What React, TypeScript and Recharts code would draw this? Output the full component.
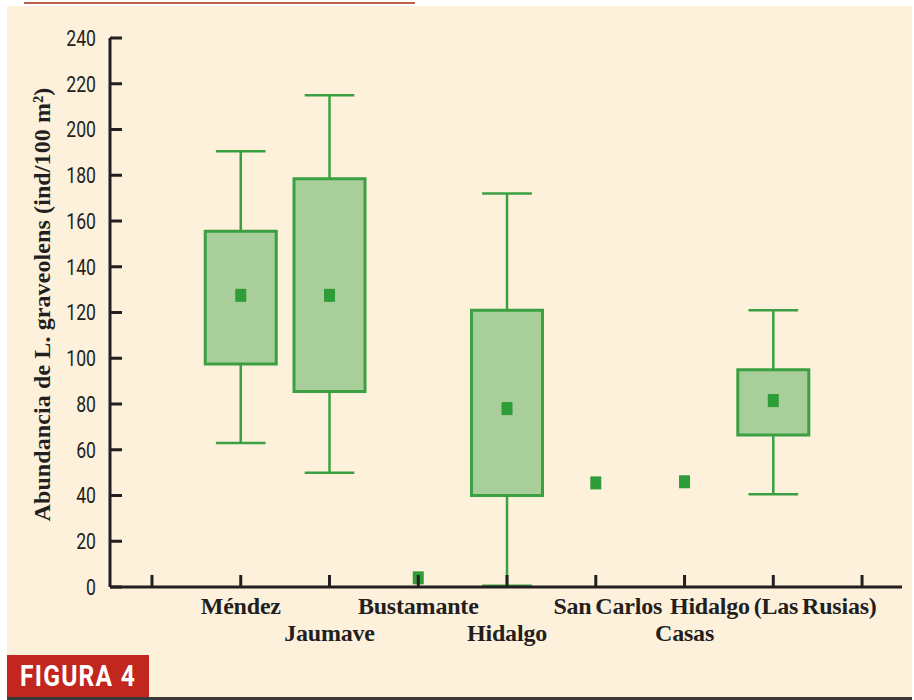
import React from 'react'
import {
  ComposedChart,
  XAxis,
  YAxis,
  Scatter,
  ReferenceArea,
  ReferenceLine,
} from 'recharts'

// sites, placed at x = 1..7 (0 and 8 are empty tick slots)
const sites = ['Méndez', 'Jaumave', 'Bustamante', 'Hidalgo', 'San Carlos', 'Casas', 'Hidalgo (Las Rusias)']
const mins = [63, 50, null, 0.5, null, null, 40.5]
const q1s = [97.5, 85.5, null, 40, null, null, 66.5]
const q3s = [155.5, 178.5, null, 121, null, null, 95]
const maxs = [190.5, 215, null, 172, null, null, 121]
const means = [127.5, 127.5, 4, 78, 45.5, 46, 81.5]
const xTicks = [0, 1, 2, 3, 4, 5, 6, 7, 8]
const yTicks = [0, 20, 40, 60, 80, 100, 120, 140, 160, 180, 200, 220, 240]

const AXIS = '#231f20'
const GREEN = '#3aa042'
const GREEN_FILL = '#a8ce9a'
const MEAN = '#2e9d38'
const BOX_HALF = 0.4
const CAP_HALF = 0.28
const TICK_MARGIN = 14

const meanData = means.map((m, i) => ({ x: i + 1, mean: m }))

const YTick = (props: any) => {
  const { x, y, payload } = props
  const axisX = x + TICK_MARGIN
  return (
    <g>
      <line x1={axisX} x2={axisX + 12} y1={y} y2={y} stroke={AXIS} strokeWidth={3} />
      {/* condensed look: squeeze the digits horizontally */}
      <g transform={`translate(${x}, ${y}) scale(0.8, 1)`}>
        <text
          x={0}
          y={0}
          dy="0.36em"
          textAnchor="end"
          fill={AXIS}
          fontSize={22}
          fontFamily="Roboto, sans-serif"
        >
          {payload.value}
        </text>
      </g>
    </g>
  )
}

const XTick = (props: any) => {
  const { x, y, payload } = props
  const v = payload.value
  const label = v >= 1 && v <= sites.length ? sites[v - 1] : ''
  const row = v % 2 === 1 ? 0 : 1
  // "San Carlos" sits a little right of its tick in the original
  const nudge = label === 'San Carlos' ? 12 : 0
  return (
    <g>
      <line x1={x} x2={x} y1={y} y2={y - 12} stroke={AXIS} strokeWidth={3} />
      {label && (
        <text
          x={x + nudge}
          y={y + 27 + row * 27}
          textAnchor="middle"
          fill={AXIS}
          fontSize={24}
          fontWeight="bold"
          letterSpacing={-0.2}
          wordSpacing={-2}
          fontFamily="'Liberation Serif', 'DejaVu Serif', serif"
        >
          {label}
        </text>
      )}
    </g>
  )
}

const YTitle = (props: any) => {
  const { viewBox } = props
  const cx = viewBox.x + 42
  const cy = viewBox.y + viewBox.height / 2 - 8
  return (
    <text
      x={cx}
      y={cy}
      transform={`rotate(-90, ${cx}, ${cy})`}
      textAnchor="middle"
      dominantBaseline="central"
      fill={AXIS}
      fontSize={24}
      fontWeight="bold"
      letterSpacing={0.1}
      fontFamily="'Liberation Serif', 'DejaVu Serif', serif"
    >
      Abundancia de L. graveolens (ind/100 m²)
    </text>
  )
}

const MeanMark = (props: any) => {
  const { cx, cy } = props
  return <rect x={cx - 5.5} y={cy - 6.5} width={11} height={13} fill={MEAN} />
}

export default function App() {
  return (
    <div style={{ position: 'absolute', left: 0, top: 0, width: 914, height: 700, background: '#ffffff' }}>
      <div style={{ position: 'absolute', left: 24, top: 2, width: 391, height: 2, background: '#c0604e' }} />
      <div style={{ position: 'absolute', left: 7, top: 6, width: 905, height: 691, background: '#fdf1dc' }} />
      <div style={{ position: 'absolute', left: 7, top: 697, width: 905, height: 3, background: '#3a3a3a' }} />
      <div
        style={{
          position: 'absolute',
          left: 7,
          top: 655,
          width: 142,
          height: 42,
          background: '#c1261f',
          overflow: 'hidden',
        }}
      >
        <span
          style={{
            display: 'inline-block',
            whiteSpace: 'nowrap',
            color: '#ffffff',
            fontFamily: 'Roboto, sans-serif',
            fontWeight: 'bold',
            fontSize: 30,
            letterSpacing: 1.5,
            lineHeight: '42px',
            marginLeft: 13,
            transform: 'scaleX(0.82)',
            transformOrigin: 'left center',
          }}
        >
          FIGURA 4
        </span>
      </div>
      <ComposedChart
        width={914}
        height={700}
        data={meanData}
        margin={{ top: 38, right: 12, bottom: 0, left: 0 }}
        style={{ position: 'absolute', left: 0, top: 0 }}
      >
        <XAxis
          dataKey="x"
          type="number"
          domain={[-0.473, 8.45]}
          ticks={xTicks}
          allowDataOverflow
          interval={0}
          height={113}
          tickSize={0}
          tickMargin={0}
          tickLine={false}
          axisLine={{ stroke: AXIS, strokeWidth: 3 }}
          tick={<XTick />}
        />
        <YAxis
          type="number"
          domain={[0, 240]}
          ticks={yTicks}
          interval={0}
          width={110}
          tickSize={0}
          tickMargin={TICK_MARGIN}
          tickLine={false}
          axisLine={{ stroke: AXIS, strokeWidth: 3 }}
          tick={<YTick />}
          label={{ content: <YTitle /> }}
        />
        {sites.map((s, i) =>
          q1s[i] != null && q3s[i] != null ? (
            <ReferenceArea
              key={'box' + s}
              x1={i + 1 - BOX_HALF}
              x2={i + 1 + BOX_HALF}
              y1={q1s[i] as number}
              y2={q3s[i] as number}
              fill={GREEN_FILL}
              fillOpacity={1}
              stroke={GREEN}
              strokeWidth={3}
            />
          ) : null
        )}
        {sites.map((s, i) =>
          mins[i] != null ? (
            <ReferenceLine
              key={'lw' + s}
              segment={[
                { x: i + 1, y: mins[i] as number },
                { x: i + 1, y: q1s[i] as number },
              ]}
              stroke={GREEN}
              strokeWidth={2.5}
            />
          ) : null
        )}
        {sites.map((s, i) =>
          maxs[i] != null ? (
            <ReferenceLine
              key={'uw' + s}
              segment={[
                { x: i + 1, y: q3s[i] as number },
                { x: i + 1, y: maxs[i] as number },
              ]}
              stroke={GREEN}
              strokeWidth={2.5}
            />
          ) : null
        )}
        {sites.map((s, i) =>
          mins[i] != null ? (
            <ReferenceLine
              key={'lc' + s}
              segment={[
                { x: i + 1 - CAP_HALF, y: mins[i] as number },
                { x: i + 1 + CAP_HALF, y: mins[i] as number },
              ]}
              stroke={GREEN}
              strokeWidth={2.5}
            />
          ) : null
        )}
        {sites.map((s, i) =>
          maxs[i] != null ? (
            <ReferenceLine
              key={'uc' + s}
              segment={[
                { x: i + 1 - CAP_HALF, y: maxs[i] as number },
                { x: i + 1 + CAP_HALF, y: maxs[i] as number },
              ]}
              stroke={GREEN}
              strokeWidth={2.5}
            />
          ) : null
        )}
        <Scatter dataKey="mean" shape={<MeanMark />} isAnimationActive={false} />
      </ComposedChart>
    </div>
  )
}
